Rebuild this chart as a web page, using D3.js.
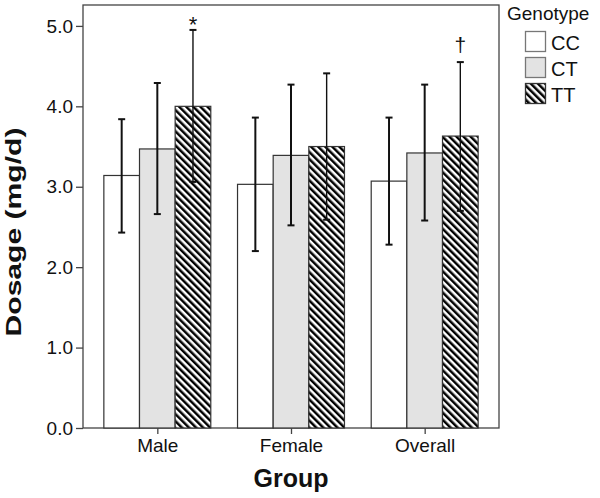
<!DOCTYPE html>
<html><head><meta charset="utf-8">
<script src="https://cdn.jsdelivr.net/npm/d3@7"></script>
<style>body{margin:0;background:#fff}svg{display:block}text{font-family:"Liberation Sans",Arial,sans-serif}</style>
</head><body>
<svg id="c" width="600" height="498"></svg>
<script>
const groups = ["Male", "Female", "Overall"];
const genotypes = ["CC", "CT", "TT"];
const means = {
  CC: [3.14, 3.03, 3.07],
  CT: [3.47, 3.39, 3.42],
  TT: [4.00, 3.50, 3.63]
};
const errLow = {
  CC: [2.43, 2.20, 2.28],
  CT: [2.66, 2.52, 2.58],
  TT: [3.06, 2.59, 2.70]
};
const errHigh = {
  CC: [3.84, 3.86, 3.86],
  CT: [4.29, 4.27, 4.27],
  TT: [4.95, 4.41, 4.55]
};
const marks = [{group: "Male", genotype: "TT", symbol: "*"}, {group: "Overall", genotype: "TT", symbol: "†"}];
const yTicks = [0, 1, 2, 3, 4, 5];

const svg = d3.select("#c");
const L = 83, R = 499, T = 5, B = 428;
const FONT = "'Liberation Sans', Arial, sans-serif";

const defs = svg.append("defs");
const pat = defs.append("pattern").attr("id", "hatch").attr("patternUnits", "userSpaceOnUse")
  .attr("width", 5).attr("height", 5).attr("patternTransform", "rotate(-45)");
pat.append("rect").attr("width", 5).attr("height", 5).attr("fill", "#fff");
pat.append("rect").attr("x", 0).attr("y", 0).attr("width", 2.5).attr("height", 5).attr("fill", "#000");

const fills = {CC: "#ffffff", CT: "#e3e3e3", TT: "url(#hatch)"};

const x0 = d3.scaleBand().domain(groups).range([L, R]).paddingInner(0.2).paddingOuter(0.156);
const x1 = d3.scaleBand().domain(genotypes).range([0, x0.bandwidth()]);
const y = d3.scaleLinear().domain([0, 5.26]).range([B, T]);

const data = [];
groups.forEach((g, i) => genotypes.forEach(k => data.push({g, k, v: means[k][i], lo: errLow[k][i], hi: errHigh[k][i]})));

// frame
svg.append("rect").attr("x", L).attr("y", T).attr("width", R - L).attr("height", B - T)
  .attr("fill", "none").attr("stroke", "#444").attr("stroke-width", 1.3);

// bars
svg.append("g").selectAll("rect").data(data).join("rect")
  .attr("x", d => x0(d.g) + x1(d.k))
  .attr("y", d => y(d.v))
  .attr("width", x1.bandwidth())
  .attr("height", d => y(0) - y(d.v))
  .attr("fill", d => fills[d.k])
  .attr("stroke", "#333").attr("stroke-width", 1.2);

// error bars
const eg = svg.append("g").attr("stroke", "#111");
data.forEach(d => {
  const cx = x0(d.g) + x1(d.k) + x1.bandwidth() / 2;
  const sw = d.k === "TT" ? 1.4 : 2;
  eg.append("line").attr("x1", cx).attr("x2", cx).attr("y1", y(d.hi)).attr("y2", y(d.lo)).attr("stroke-width", sw);
  [d.hi, d.lo].forEach(v => eg.append("line").attr("x1", cx - 3.5).attr("x2", cx + 3.5).attr("y1", y(v)).attr("y2", y(v)).attr("stroke-width", 2));
});

// significance marks
marks.forEach(m => {
  const i = groups.indexOf(m.group);
  const cx = x0(m.group) + x1(m.genotype) + x1.bandwidth() / 2;
  const star = m.symbol === "*";
  svg.append("text").attr("x", cx).attr("y", y(errHigh[m.genotype][i]) + (star ? 2 : -10))
    .attr("text-anchor", "middle").attr("font-size", star ? 22 : 21)
    .attr("font-family", "'Liberation Serif', serif").attr("fill", "#111").text(m.symbol);
});

// y axis
const ya = svg.append("g").attr("transform", `translate(${L},0)`)
  .call(d3.axisLeft(y).tickValues(yTicks).tickFormat(d3.format(".1f")).tickSize(7).tickPadding(3));
ya.select(".domain").remove();
ya.selectAll("line").attr("stroke", "#444").attr("stroke-width", 1.3);
ya.selectAll("text").attr("font-size", 19).attr("fill", "#111").attr("font-family", FONT);

// x axis
const xa = svg.append("g").attr("transform", `translate(0,${B})`)
  .call(d3.axisBottom(d3.scalePoint().domain(groups).range([x0("Male") + x0.bandwidth() / 2, x0("Overall") + x0.bandwidth() / 2])).tickSize(6).tickPadding(5));
xa.select(".domain").remove();
xa.selectAll("line").attr("stroke", "#444").attr("stroke-width", 1.3);
xa.selectAll("text").attr("font-size", 19).attr("fill", "#111").attr("font-family", FONT);

// titles
svg.append("text").attr("x", (L + R) / 2).attr("y", 487).attr("text-anchor", "middle")
  .attr("font-size", 25).attr("font-weight", "bold").attr("fill", "#111").text("Group");
svg.append("text").attr("transform", `translate(21,232) rotate(-90)`).attr("text-anchor", "middle")
  .attr("font-size", 22).attr("font-weight", "bold").attr("fill", "#111")
  .attr("textLength", 209).attr("lengthAdjust", "spacingAndGlyphs").text("Dosage (mg/d)");

// legend
const lg = svg.append("g");
lg.append("text").attr("x", 507).attr("y", 20).attr("font-size", 19).attr("fill", "#111").text("Genotype");
genotypes.forEach((k, i) => {
  const yy = 31.5 + i * 26;
  lg.append("rect").attr("x", 525.5).attr("y", yy).attr("width", 20).attr("height", 20)
    .attr("fill", fills[k]).attr("stroke", k === "TT" ? "#333" : "#777").attr("stroke-width", 1.3);
  lg.append("text").attr("x", 551).attr("y", yy + 18).attr("font-size", 20).attr("fill", "#111").text(k);
});
</script>
</body></html>
